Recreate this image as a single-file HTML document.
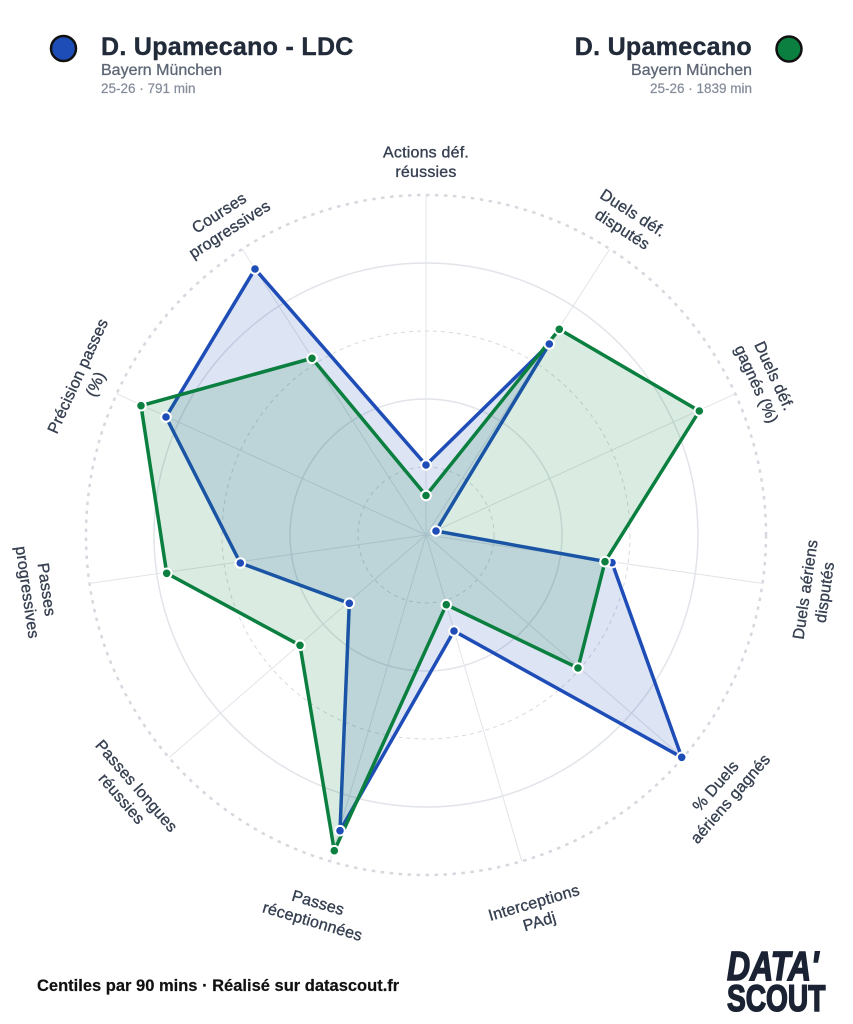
<!DOCTYPE html>
<html>
<head>
<meta charset="utf-8">
<style>
html,body{margin:0;padding:0;background:#fff;}
body{width:853px;height:1024px;overflow:hidden;}
svg{display:block;font-family:"Liberation Sans",Arial,sans-serif;}
</style>
</head>
<body>
<svg width="853" height="1024" viewBox="0 0 853 1024" xmlns="http://www.w3.org/2000/svg">
  <rect width="853" height="1024" fill="#ffffff"/>

  <!-- Header left -->
  <circle cx="63.5" cy="48.5" r="12.5" fill="#1e4db7" stroke="#111111" stroke-width="2.5"/>
  <text x="101" y="55" font-size="25" font-weight="bold" fill="#222b3a" stroke="#222b3a" stroke-width="0.4" letter-spacing="0.3">D. Upamecano - LDC</text>
  <text x="101" y="75" font-size="16" fill="#5e6776" stroke="#5e6776" stroke-width="0.3">Bayern München</text>
  <text x="101" y="93" font-size="13.5" fill="#848c9a" stroke="#848c9a" stroke-width="0.2">25-26 · 791 min</text>

  <!-- Header right -->
  <circle cx="789" cy="49" r="12.5" fill="#0a7f3f" stroke="#111111" stroke-width="2.5"/>
  <text x="752" y="55" font-size="25" font-weight="bold" fill="#222b3a" stroke="#222b3a" stroke-width="0.4" text-anchor="end" letter-spacing="0.3">D. Upamecano</text>
  <text x="752" y="75" font-size="16" fill="#5e6776" stroke="#5e6776" stroke-width="0.3" text-anchor="end">Bayern München</text>
  <text x="752" y="93" font-size="13.5" fill="#848c9a" stroke="#848c9a" stroke-width="0.2" text-anchor="end">25-26 · 1839 min</text>

  <!-- Grid rings -->
  <g fill="none">
    <circle cx="426" cy="535" r="68" stroke="#d6dadf" stroke-width="1" stroke-dasharray="4 4"/>
    <circle cx="426" cy="535" r="136" stroke="#e1e4e9" stroke-width="1.5"/>
    <circle cx="426" cy="535" r="204" stroke="#d6dadf" stroke-width="1" stroke-dasharray="4 4"/>
    <circle cx="426" cy="535" r="272" stroke="#e1e4e9" stroke-width="1.5"/>
    <circle cx="426" cy="535" r="340" stroke="#d5d8de" stroke-width="2.5" stroke-dasharray="3.5 5.5"/>
  </g>

  <!-- Spokes -->
  <g stroke="#e1e4e9" stroke-width="1">
    <line x1="426" y1="535" x2="426" y2="195"/>
    <line x1="426" y1="535" x2="609.8" y2="249"/>
    <line x1="426" y1="535" x2="735.3" y2="393.8"/>
    <line x1="426" y1="535" x2="762.5" y2="583.4"/>
    <line x1="426" y1="535" x2="682.9" y2="757.7"/>
    <line x1="426" y1="535" x2="521.8" y2="861.2"/>
    <line x1="426" y1="535" x2="330.2" y2="861.2"/>
    <line x1="426" y1="535" x2="169.1" y2="757.7"/>
    <line x1="426" y1="535" x2="89.5" y2="583.4"/>
    <line x1="426" y1="535" x2="116.7" y2="393.8"/>
    <line x1="426" y1="535" x2="242.2" y2="249"/>
  </g>

  <!-- Blue series -->
  <polygon points="426,465 549.3,344 436,531 612,562.7 681.7,757.3 454,631 340,830.7 349.3,603.3 240.3,563 166,417 255,269"
    fill="rgba(30,77,183,0.15)" stroke="#1e4db7" stroke-width="3.5" stroke-linejoin="miter"/>
  <!-- Green series -->
  <polygon points="426,495.5 559.3,329.3 699.3,411 605,561.7 578,668 446.3,604.7 334.3,850.7 300,645.3 166.7,573.3 141,405.7 312,358.3"
    fill="rgba(8,128,63,0.15)" stroke="#0a7f3f" stroke-width="3.5" stroke-linejoin="miter"/>

  <!-- Blue markers -->
  <g fill="#1e4db7" stroke="#ffffff" stroke-width="2">
    <circle cx="426" cy="465" r="4.8"/>
    <circle cx="549.3" cy="344" r="4.8"/>
    <circle cx="436" cy="531" r="4.8"/>
    <circle cx="612" cy="562.7" r="4.8"/>
    <circle cx="681.7" cy="757.3" r="4.8"/>
    <circle cx="454" cy="631" r="4.8"/>
    <circle cx="340" cy="830.7" r="4.8"/>
    <circle cx="349.3" cy="603.3" r="4.8"/>
    <circle cx="240.3" cy="563" r="4.8"/>
    <circle cx="166" cy="417" r="4.8"/>
    <circle cx="255" cy="269" r="4.8"/>
  </g>
  <!-- Green markers -->
  <g fill="#0a7f3f" stroke="#ffffff" stroke-width="2">
    <circle cx="426" cy="495.5" r="4.8"/>
    <circle cx="559.3" cy="329.3" r="4.8"/>
    <circle cx="699.3" cy="411" r="4.8"/>
    <circle cx="605" cy="561.7" r="4.8"/>
    <circle cx="578" cy="668" r="4.8"/>
    <circle cx="446.3" cy="604.7" r="4.8"/>
    <circle cx="334.3" cy="850.7" r="4.8"/>
    <circle cx="300" cy="645.3" r="4.8"/>
    <circle cx="166.7" cy="573.3" r="4.8"/>
    <circle cx="141" cy="405.7" r="4.8"/>
    <circle cx="312" cy="358.3" r="4.8"/>
  </g>

  <!-- Axis labels -->
  <g font-size="16" fill="#364051" stroke="#364051" stroke-width="0.35" text-anchor="middle" letter-spacing="0.2">
    <text transform="translate(426,162)"><tspan x="0" y="-4.5">Actions déf.</tspan><tspan x="0" y="15">réussies</tspan></text>
    <text transform="translate(627.6,221.2) rotate(32.73)"><tspan x="0" y="-4.5">Duels déf.</tspan><tspan x="0" y="15">disputés</tspan></text>
    <text transform="translate(765.3,380.1) rotate(65.45)"><tspan x="0" y="-4.5">Duels déf.</tspan><tspan x="0" y="15">gagnés (%)</tspan></text>
    <text transform="translate(815,590.9) rotate(-81.82)"><tspan x="0" y="-4.5">Duels aériens</tspan><tspan x="0" y="15">disputés</tspan></text>
    <text transform="translate(723,792.4) rotate(-49.09)"><tspan x="0" y="-4.5">% Duels</tspan><tspan x="0" y="15">aériens gagnés</tspan></text>
    <text transform="translate(536.7,912.1) rotate(-16.36)"><tspan x="0" y="-4.5">Interceptions</tspan><tspan x="0" y="15">PAdj</tspan></text>
    <text transform="translate(315.3,912.1) rotate(16.36)"><tspan x="0" y="-4.5">Passes</tspan><tspan x="0" y="15">réceptionnées</tspan></text>
    <text transform="translate(129,792.4) rotate(49.09)"><tspan x="0" y="-4.5">Passes longues</tspan><tspan x="0" y="15">réussies</tspan></text>
    <text transform="translate(37,590.9) rotate(81.82)"><tspan x="0" y="-4.5">Passes</tspan><tspan x="0" y="15">progressives</tspan></text>
    <text transform="translate(86.7,380.1) rotate(-65.45)"><tspan x="0" y="-4.5">Précision passes</tspan><tspan x="0" y="15">(%)</tspan></text>
    <text transform="translate(224.4,221.2) rotate(-32.73)"><tspan x="0" y="-4.5">Courses</tspan><tspan x="0" y="15">progressives</tspan></text>
  </g>

  <!-- Footer -->
  <text x="37" y="991" font-size="16.5" font-weight="bold" fill="#111111" stroke="#111111" stroke-width="0.2">Centiles par 90 mins · Réalisé sur datascout.fr</text>

  <!-- Logo -->
  <g fill="#1a2233" stroke="#1a2233" stroke-width="1.6" font-weight="bold">
    <text transform="translate(727,980) scale(0.78,1)" font-size="41" font-style="italic">DATA'</text>
    <text transform="translate(727,1011) scale(0.76,1)" font-size="37">SCOUT</text>
  </g>
</svg>
</body>
</html>
